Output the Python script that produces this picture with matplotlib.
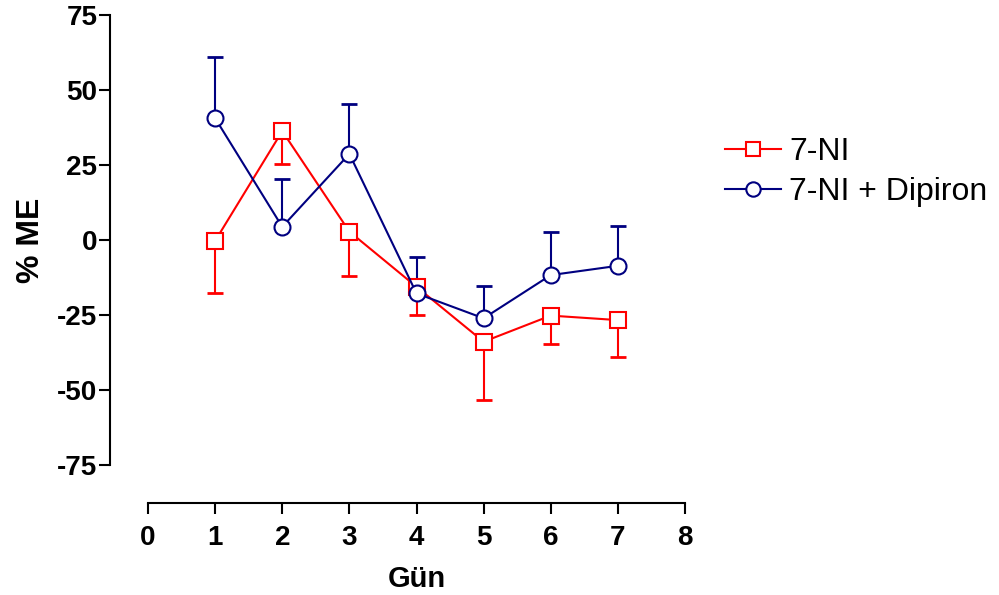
import numpy as np
from matplotlib import pyplot as plt

plt.rcParams['font.family'] = ['Liberation Sans', 'DejaVu Sans']
plt.rcParams['axes.unicode_minus'] = False

days = [1, 2, 3, 4, 5, 6, 7]

# 7-NI: mean and SEM (error bars drawn downward)
ni_mean = [-0.3, 36.3, 2.8, -15.6, -33.9, -25.2, -26.7]
ni_err = [17.2, 11.1, 14.9, 9.3, 19.4, 9.6, 12.2]

# 7-NI + Dipiron: mean and SEM (error bars drawn upward)
dip_mean = [40.6, 4.4, 28.7, -17.8, -26.1, -11.7, -8.6]
dip_err = [20.5, 15.9, 16.7, 12.1, 10.9, 14.4, 13.4]

x_ticks = [0, 1, 2, 3, 4, 5, 6, 7, 8]
y_ticks = [-75, -50, -25, 0, 25, 50, 75]

RED = '#FF0000'
NAVY = '#000080'


def draw_series(ax, x, mean, err, color, marker, label, down):
    zeros = np.zeros(len(err))
    yerr = [err, zeros] if down else [zeros, err]
    _, caps, _ = ax.errorbar(x, mean, yerr=yerr, fmt='none', ecolor=color,
                             elinewidth=1.5, capsize=6, capthick=2, zorder=2)
    # hide the caps that sit on the mean itself
    for c in caps:
        if np.allclose(c.get_ydata(), mean):
            c.set_visible(False)
    ax.plot(x, mean, color=color, lw=1.5, marker=marker, markersize=11.5,
            markerfacecolor='white', markeredgecolor=color, markeredgewidth=1.5,
            label=label, zorder=3)


fig = plt.figure(figsize=(9.99, 5.95), dpi=100)
ax = fig.add_axes([148 / 999, 1 - 465 / 595, 537 / 999, 450 / 595])

draw_series(ax, days, ni_mean, ni_err, RED, 's', '7-NI', True)
draw_series(ax, days, dip_mean, dip_err, NAVY, 'o', '7-NI + Dipiron', False)

ax.set_xlim(0, 8)
ax.set_ylim(-75, 75)
ax.set_xticks(x_ticks)
ax.set_yticks(y_ticks)

for s in ['top', 'right']:
    ax.spines[s].set_visible(False)
ax.spines['left'].set_position(('outward', 27.4))
ax.spines['bottom'].set_position(('outward', 27.4))
for s in ['left', 'bottom']:
    ax.spines[s].set_linewidth(1.5)
ax.tick_params(axis='both', length=8, width=1.5, labelsize=20)
ax.tick_params(axis='x', pad=8)
ax.tick_params(axis='y', pad=1)
for lab in ax.get_xticklabels() + ax.get_yticklabels():
    lab.set_fontweight('bold')

ax.set_xlabel('Gün', fontsize=21, fontweight='bold', labelpad=10)
ax.set_ylabel('% ME', fontsize=23, fontweight='bold', labelpad=8)

fig.legend(loc='center left', bbox_to_anchor=(725 / 999, 1 - 172 / 595),
           frameon=False, fontsize=23, handlelength=1.75, handletextpad=0.25,
           labelspacing=0.3, borderpad=0, borderaxespad=0, markerscale=0.9)

fig.savefig('out.png', dpi=100)
